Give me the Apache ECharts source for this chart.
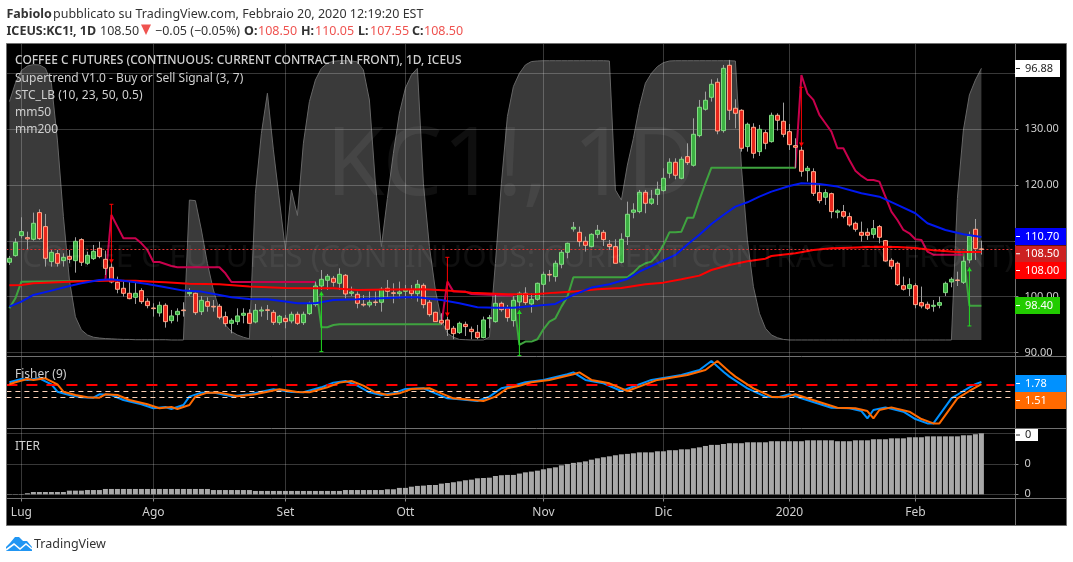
<!DOCTYPE html>
<html><head><meta charset="utf-8">
<style>html,body{margin:0;padding:0;background:#fff}#c{width:1073px;height:562px}</style>
<script src="https://cdn.jsdelivr.net/npm/echarts@6/dist/echarts.min.js"></script>
</head><body><div id="c"></div>
<script>
const barCount = 168;
const tickBars = [2,24,46,66,89,109,130,151];
const tickLabels = ['Lug','Ago','Set','Ott','Nov','Dic','2020','Feb'];
const opens = [106.17,107.36,110.94,110.59,110.29,115.07,112.56,106.29,107.72,106.46,107.24,106.46,110.23,105.99,106.82,108.68,106.70,105.27,102.58,101.51,100.61,99.89,101.09,99.18,97.98,97.09,98.46,95.71,96.79,97.62,100.55,100.61,97.32,99.11,98.28,98.28,96.43,95.23,95.53,96.67,97.03,95.47,97.44,97.65,97.20,95.35,96.13,95.65,96.85,95.35,96.97,98.58,101.92,102.94,103.30,102.40,103.84,100.61,100.43,98.64,98.52,99.05,99.00,101.51,100.70,100.55,100.97,101.21,100.55,102.04,99.00,97.20,95.77,95.83,94.34,93.56,95.05,94.16,93.62,92.67,96.07,95.53,98.82,97.92,95.71,99.05,100.61,98.70,99.53,102.22,104.00,103.60,105.81,107.96,112.14,111.54,109.93,108.97,111.18,111.54,109.39,108.97,106.17,110.77,115.13,115.25,118.71,116.74,118.35,119.01,122.12,124.09,121.22,125.10,123.55,128.87,133.59,135.74,138.43,129.76,141.47,133.77,133.41,126.90,130.36,126.00,129.40,127.79,132.51,131.44,129.58,127.07,126.24,122.59,122.41,118.65,117.82,118.47,115.13,115.25,114.35,113.16,111.54,111.54,111.18,112.56,110.05,106.52,105.99,101.98,101.45,101.98,98.94,98.64,98.28,98.46,100.73,102.64,103.00,102.58,106.58,112.08,108.55];
const highs = [107.30,110.47,114.23,111.66,115.07,115.66,114.83,108.38,108.38,107.78,108.38,110.65,110.47,108.08,109.27,109.87,108.26,105.99,103.60,103.00,102.70,102.70,101.51,99.71,98.82,99.11,98.82,97.62,97.92,99.00,101.51,100.73,100.13,99.89,99.41,98.70,97.32,96.13,97.92,97.92,97.74,98.70,98.22,98.52,97.62,96.73,96.73,97.32,97.32,97.32,99.11,102.70,104.79,104.07,103.72,105.09,104.07,101.81,100.91,100.31,100.91,100.91,101.69,103.00,102.40,102.70,102.10,102.10,103.00,102.40,99.41,97.32,97.03,96.43,94.76,95.53,95.53,94.64,94.94,96.43,96.73,100.31,99.11,98.52,100.13,100.91,101.69,100.61,102.52,104.49,104.79,106.47,108.38,109.69,113.39,112.56,110.77,111.36,112.86,111.96,110.17,110.29,111.36,117.04,116.74,119.13,119.13,119.13,120.62,123.01,124.80,124.80,125.10,127.49,131.97,135.26,136.75,138.96,139.14,141.53,142.43,135.38,133.59,131.20,131.08,130.78,129.88,132.99,132.87,134.78,130.96,128.39,126.90,123.43,123.01,120.32,119.25,118.65,115.66,116.44,115.07,113.45,113.45,112.26,113.75,112.86,110.17,106.88,106.29,103.60,103.30,102.40,101.81,99.11,99.41,100.01,102.70,103.48,104.49,107.18,111.66,113.93,110.05];
const lows = [105.69,107.18,110.47,108.50,110.05,110.17,105.39,105.39,105.39,105.39,105.99,104.31,105.51,105.69,106.58,106.88,103.89,102.40,100.61,100.01,99.53,98.70,98.70,97.92,96.43,96.43,94.46,95.23,95.53,96.43,100.13,96.73,96.73,97.32,97.32,95.95,94.64,93.44,94.94,95.23,95.11,95.23,96.43,95.83,94.94,94.94,94.34,95.23,94.94,94.94,96.73,98.22,101.21,101.21,101.81,101.21,99.71,100.13,97.92,98.22,98.10,98.34,97.32,99.71,98.82,99.71,99.59,99.71,99.11,97.92,96.43,95.53,94.94,92.96,92.37,93.32,92.96,92.37,92.37,92.55,94.34,95.35,97.32,95.53,94.64,97.92,98.52,97.14,99.29,100.31,102.70,102.70,105.09,106.88,111.66,108.97,108.08,108.85,110.47,109.09,108.38,105.99,105.99,109.27,114.05,114.95,114.95,116.44,116.44,118.83,121.22,121.04,121.04,123.61,123.31,128.57,133.35,134.96,129.11,129.40,131.67,130.18,126.00,126.00,124.80,125.22,126.42,127.61,129.76,128.57,126.30,123.01,121.52,120.62,118.05,116.74,116.44,114.05,114.05,114.05,112.56,111.66,109.87,110.17,110.47,109.57,106.29,104.91,101.92,101.09,100.13,97.92,97.92,97.62,97.32,97.92,100.13,101.69,101.92,102.28,105.99,106.58,107.55];
const closes = [106.88,109.75,111.66,110.35,113.16,110.41,106.88,107.96,105.99,107.06,106.70,109.93,106.17,107.42,108.14,107.18,105.09,102.64,101.33,100.61,99.65,100.61,99.11,98.40,97.86,98.46,95.53,96.55,97.38,97.50,100.79,97.14,99.35,98.28,98.16,96.31,95.17,95.77,96.55,97.03,95.23,97.56,97.62,97.55,95.41,96.49,95.53,96.85,95.23,96.85,98.82,101.92,103.12,103.66,102.58,104.01,100.49,100.85,98.82,98.52,99.00,98.95,101.33,100.97,100.60,100.85,101.21,100.55,102.22,98.58,96.79,95.53,95.29,94.16,93.38,95.23,94.64,93.74,92.67,95.83,96.25,98.82,97.68,96.25,99.35,100.61,98.94,99.53,102.40,104.01,103.90,105.99,107.96,109.57,112.44,109.87,109.21,111.18,111.90,110.23,108.97,105.99,110.29,114.77,115.54,118.71,116.74,117.52,119.25,121.22,124.09,121.76,124.63,124.03,129.11,133.95,135.20,138.07,129.70,140.93,133.41,132.87,126.60,130.90,125.70,130.00,127.49,132.51,131.62,129.11,127.25,126.78,122.47,123.01,118.53,117.22,118.65,115.25,115.37,114.41,112.86,112.08,111.00,111.00,112.20,110.65,106.40,105.45,102.16,101.33,102.16,98.58,98.34,97.92,98.46,98.94,102.40,103.12,102.90,106.35,110.83,108.62,108.50];
const mm50 = [[0,98.22],[2,99.12],[4,100.31],[7,101.09],[10,101.92],[12,102.40],[15,103.00],[17,103.12],[21,102.58],[23,102.28],[26,101.69],[29,101.09],[32,100.91],[35,100.31],[37,99.89],[40,99.59],[43,99.53],[46,99.12],[48,98.82],[51,98.82],[54,99.41],[58,99.53],[62,99.71],[66,99.89],[68,99.89],[72,99.41],[75,98.82],[78,98.10],[81,98.04],[84,98.04],[88,98.40],[91,98.70],[94,100.31],[97,101.63],[100,102.22],[103,103.18],[105,104.49],[108,105.99],[111,107.48],[113,109.35],[115,111.10],[117,113.04],[119,114.65],[121,116.14],[123,116.92],[125,117.93],[127,118.83],[130,119.85],[132,120.32],[135,120.20],[138,119.73],[142,118.53],[145,117.93],[148,116.44],[151,114.95],[153,113.16],[156,111.96],[159,111.18],[162,110.70]];
const mm200 = [[0,102.04],[2,102.10],[4,102.40],[10,102.70],[15,102.88],[21,102.88],[24,102.70],[26,102.58],[30,102.34],[35,102.22],[40,101.81],[46,101.57],[51,101.51],[54,101.51],[58,101.21],[63,101.27],[69,101.33],[73,101.09],[77,100.73],[83,100.43],[88,100.49],[91,100.73],[94,100.91],[98,101.33],[102,101.57],[106,102.22],[109,102.52],[112,103.12],[115,103.78],[117,104.79],[120,105.69],[123,106.35],[126,106.82],[127,107.30],[131,107.78],[134,108.38],[137,108.67],[140,108.79],[143,108.91],[145,108.97],[148,108.91],[151,108.73],[154,108.32],[158,108.02],[162,108.00]];
const supertrendUp = [[0,97.92],[1,99.71],[2,102.70],[15,102.88],[16,103.00],[17,null],[51,102.40],[52,94.52],[53,94.52],[54,94.93],[55,95.05],[72,95.05],[73,null],[84,99.96],[85,91.35],[86,91.95],[87,91.95],[88,92.37],[89,94.16],[90,95.53],[91,96.13],[92,98.22],[93,100.01],[94,103.48],[103,103.48],[104,104.31],[105,105.39],[106,105.99],[107,106.29],[108,107.48],[109,109.27],[110,111.54],[111,111.54],[112,111.66],[113,114.17],[114,114.17],[115,117.34],[116,120.32],[117,123.13],[131,123.13],[132,null],[159,107.78],[160,98.40],[162,98.40]];
const supertrendDown = [[16,103.00],[17,114.65],[18,112.56],[19,110.47],[21,110.47],[22,109.57],[23,108.38],[24,106.23],[25,106.23],[26,105.87],[27,105.51],[28,105.27],[35,105.27],[36,104.19],[37,102.64],[51,102.64],[52,null],[72,95.05],[73,102.70],[74,100.91],[76,100.91],[77,100.49],[84,100.19],[85,null],[131,123.13],[132,139.74],[133,136.45],[134,135.26],[135,132.57],[136,131.08],[137,129.58],[138,126.60],[139,126.60],[140,124.51],[141,122.59],[142,121.64],[143,120.92],[144,120.92],[145,120.62],[146,117.93],[147,115.25],[148,113.75],[149,111.96],[150,111.36],[151,110.29],[152,110.17],[153,108.08],[154,107.54],[159,107.54]];
const stc = [85,91.6,96.1,97.7,98.2,98.1,96.9,91.6,71.3,44,21.4,8.3,3.6,1.8,1,.7,.5,.4,.3,.2,.2,.1,.1,.1,.1,.1,.1,0,0,0,49.9,49.7,39.2,27.3,17.8,10.7,5.4,3,1.8,1,.4,52.3,73.7,88,67.8,49.9,32.1,53.5,44.4,70.2,85,92.7,96.9,98.7,99.4,99.6,99.6,99.5,99.2,96.3,85.6,55.9,33.3,50.5,66.6,80.9,89.8,94.5,96.9,55.9,33.3,17.8,7.1,2.4,1,.2,.1,0,0,0,1,27.3,55.9,79.7,90.4,95.1,98.1,99.3,99.5,99.6,99.6,99.6,99.6,99.6,99.6,99.6,99.6,99.6,99.6,99.6,99.5,53.5,49.9,62.4,71.9,83.2,91.6,95.1,97.5,98.9,99.5,99.6,99.6,99.6,99.6,99.6,99.6,99.6,99.6,99.6,99.6,99.5,61.8,35.7,19,9.5,4.2,1.8,.8,.2,0,0,0,0,0,0,0,0,0,0,0,0,0,0,0,0,0,0,0,0,0,0,0,0,0,0,0,0,50.5,74.9,87.4,92.7,96.88];
const stcLast = 96.88;
const lastPrice = 108.5;
const sellSignals = [[17,116.56,105.99],[73,107.06,96.43],[132,137.53,126.90]];
const buySignals = [[52,90.16,100.91],[85,89.44,97.62],[160,94.76,105.27]];
const fisher = [[0,1.73],[2,2.11],[3,2.00],[5,2.19],[7,1.50],[8,.65],[10,.27],[12,0],[14,-.04],[15,.35],[17,.27],[19,-.3],[22,-.8],[24,-1.26],[26,-1.11],[27,-1.34],[29,-.88],[30,.08],[32,.54],[34,.54],[37,.12],[40,.35],[42,.65],[44,.92],[47,.62],[49,.58],[52,1.15],[54,1.69],[56,1.88],[58,1.34],[60,.58],[62,.27],[64,.46],[66,.96],[69,1.04],[71,.46],[73,-.11],[75,-.23],[78,-.42],[80,.08],[82,1.04],[84,1.34],[86,1.73],[89,2.00],[93,2.65],[94,2.87],[96,2.00],[99,1.61],[102,.73],[107,2.00],[112,2.57],[115,3.14],[117,4.18],[119,2.95],[120,2.38],[123,1.04],[126,.08],[128,0],[130,.35],[132,-.11],[137,-1.19],[140,-1.26],[142,-1.57],[143,-2.41],[144,-1.45],[146,-1.15],[149,-1.65],[151,-2.49],[153,-2.99],[154,-2.99],[157,-.11],[159,.73],[161,1.51],[162,1.78]];
const fisherSignal = [[0,1.50],[1,1.73],[3,2.11],[4,2.00],[6,2.19],[8,1.50],[9,.65],[11,.27],[13,0],[15,-.04],[16,.35],[18,.27],[20,-.3],[23,-.8],[25,-1.26],[27,-1.11],[28,-1.34],[30,-.88],[31,.08],[33,.54],[35,.54],[38,.12],[41,.35],[43,.65],[45,.92],[48,.62],[50,.58],[53,1.15],[55,1.69],[57,1.88],[59,1.34],[61,.58],[63,.27],[65,.46],[67,.96],[70,1.04],[72,.46],[74,-.11],[76,-.23],[79,-.42],[81,.08],[83,1.04],[85,1.34],[87,1.73],[90,2.00],[94,2.65],[95,2.87],[97,2.00],[100,1.61],[103,.73],[108,2.00],[113,2.57],[116,3.14],[118,4.18],[120,2.95],[121,2.38],[124,1.04],[127,.08],[129,0],[131,.35],[133,-.11],[138,-1.19],[141,-1.26],[143,-1.57],[144,-2.41],[145,-1.45],[147,-1.15],[150,-1.65],[152,-2.49],[154,-2.99],[155,-2.99],[158,-.11],[160,.73],[162,1.51]];
const fisherLevels = [1.5,.75,0];
const iter = [.002,.002,.002,.007,.015,.015,.015,.015,.015,.015,.024,.024,.024,.028,.028,.028,.035,.035,.035,.035,.035,.035,.035,.035,.035,.035,.035,.035,.035,.035,.035,.035,.035,.035,.028,.028,.028,.028,.028,.028,.028,.022,.022,.022,.022,.022,.022,.022,.022,.022,.022,.022,.022,.022,.022,.022,.028,.028,.028,.028,.028,.028,.028,.033,.033,.042,.042,.050,.055,.057,.061,.061,.070,.074,.079,.085,.092,.096,.105,.107,.109,.120,.125,.127,.127,.136,.144,.149,.155,.164,.171,.177,.190,.199,.206,.210,.216,.227,.236,.243,.249,.256,.262,.265,.269,.275,.275,.275,.282,.282,.289,.289,.295,.295,.302,.308,.317,.324,.324,.330,.335,.335,.335,.341,.341,.341,.341,.348,.348,.348,.348,.348,.348,.354,.354,.354,.354,.354,.348,.348,.348,.354,.354,.354,.361,.361,.361,.367,.367,.367,.374,.374,.374,.380,.380,.380,.380,.380,.380,.387,.387,.394,.402];

const categories = Array.from({length: barCount}, (_, i) => {
  const k = tickBars.indexOf(i);
  return k >= 0 ? tickLabels[k] : '';
});
const isTick = (i) => tickBars.indexOf(i) >= 0;
const candle = opens.map((o, i) => [o, closes[i], lows[i], highs[i]]);
const bodies = opens.map((o, i) => [o, closes[i], Math.min(o, closes[i]), Math.max(o, closes[i])]);

const FONT = '"Noto Sans", sans-serif';
const GRID = 'rgba(255,255,255,0.22)', LINE = '#707070', TXT = '#cfcfcf';
const L = 6.4, W = 1008;

function txt(x, y, text, o) {
  return Object.assign({type:'text', x, y, silent:true, z:20,
    style:Object.assign({text, font:'12px '+FONT, fill:'#333', textVerticalAlign:'middle'}, o||{})});
}
function hline(x1,x2,y,c){return {type:'line',silent:true,z:10,shape:{x1,y1:y,x2,y2:y},style:{stroke:c||LINE,lineWidth:1}};}
function vline(x,y1,y2,c){return {type:'line',silent:true,z:10,shape:{x1:x,y1,x2:x,y2},style:{stroke:c||LINE,lineWidth:1}};}
function tag(y,h,right,bg,fg,label){
  return [
    {type:'rect',silent:true,z:15,shape:{x:1015,y,width:right-1015,height:h},style:{fill:bg}},
    {type:'rect',silent:true,z:16,shape:{x:1016,y:y+h/2-.5,width:4,height:1},style:{fill:fg}},
    {type:'text',silent:true,z:16,x:1025,y:y+h/2,style:{text:label,font:'11px '+FONT,fill:fg,textVerticalAlign:'middle'}}
  ];
}
const red = '#ef5350', hdr = '#333';
const h13 = '12.5px '+FONT, b13 = 'bold 12.5px '+FONT;
const graphic = [
  {type:'rect',silent:true,z:-5,shape:{x:6.5,y:43.5,width:1060,height:482},style:{fill:'#000'}},
  txt(511,168,'KC1!, 1D',{font:'95px '+FONT,fill:'rgba(255,255,255,0.06)',textAlign:'center'}),
  txt(518,258,'COFFEE C FUTURES (CONTINUOUS: CURRENT CONTRACT IN FRONT)',{font:'31.3px '+FONT,fill:'rgba(255,255,255,0.06)',textAlign:'center'}),
  {type:'rect',silent:true,z:10,shape:{x:6.5,y:43.5,width:1060,height:482},style:{fill:'none',stroke:LINE,lineWidth:1}},
  vline(1015.5,43.5,525.5),
  hline(6.5,1066.5,356.5), hline(6.5,1066.5,428.5), hline(6.5,1066.5,498.5),
  txt(15,61,'COFFEE C FUTURES (CONTINUOUS: CURRENT CONTRACT IN FRONT), 1D, ICEUS',{font:'500 12px '+FONT,fill:TXT}),
  txt(15,78.5,'Supertrend V1.0 - Buy or Sell Signal (3, 7)',{fill:TXT}),
  txt(15,95.5,'STC_LB (10, 23, 50, 0.5)',{fill:TXT}),
  txt(15,112.5,'mm50',{fill:TXT}),
  txt(15,129.5,'mm200',{fill:TXT}),
  txt(15,374.5,'Fisher (9)',{fill:TXT}),
  txt(15,446.5,'ITER',{fill:TXT}),
  ...tag(60,17,1060,'#ffffff','#222','96.88'),
  ...tag(228,17,1066,'#0000ff','#fff','110.70'),
  ...tag(245.5,16.5,1066,'#cc2222','#fff','108.50'),
  ...tag(262,17,1066,'#ff0000','#fff','108.00'),
  ...tag(297,17,1060,'#22cc00','#fff','98.40'),
  ...tag(375,17,1066,'#0091ff','#fff','1.78'),
  ...tag(392,17,1066,'#ff6a00','#fff','1.51'),
  ...tag(429,12,1038,'#ffffff','#222','0'),
  txt(6.5,14,'Fabiolo',{font:b13,fill:hdr}),
  txt(53,14,'pubblicato su TradingView.com, Febbraio 20, 2020 12:19:20 EST',{font:h13,fill:hdr}),
  txt(6.5,31,'ICEUS:KC1!, 1D',{font:b13,fill:hdr}),
  txt(100,31,'108.50',{font:h13,fill:hdr}),
  {type:'polygon',silent:true,z:20,shape:{points:[[141,24.5],[151,24.5],[146,35]]},style:{fill:red}},
  txt(155,31,'\u22120.05 (\u22120.05%)',{font:h13,fill:hdr}),
  txt(244,31,'O:',{font:b13,fill:hdr}), txt(258,31,'108.50',{font:h13,fill:red}),
  txt(301,31,'H:',{font:b13,fill:hdr}), txt(315,31,'110.05',{font:h13,fill:red}),
  txt(358,31,'L:',{font:b13,fill:hdr}), txt(370,31,'107.55',{font:h13,fill:red}),
  txt(412,31,'C:',{font:b13,fill:hdr}), txt(424,31,'108.50',{font:h13,fill:red}),
  {type:'polygon',silent:true,z:20,shape:{points:[[6,547],[10,543],[15,537],[19,537],[23,541],[27,541],[32,547],[32,551],[6,551]]},style:{fill:'#2196f3'}},
  {type:'polyline',silent:true,z:21,shape:{points:[[6,550],[14,544],[20,549],[26,544],[32,549]]},style:{stroke:'#fff',lineWidth:1.6,fill:'none'}},
  txt(34,544.5,'TradingView',{font:h13,fill:'#333'})
];

function signalItem(dir){
  return function(params, api){
    const x = api.coord([api.value(0), api.value(1)])[0];
    const y0 = api.coord([api.value(0), api.value(1)])[1];
    const y1 = api.coord([api.value(0), api.value(2)])[1];
    const col = dir > 0 ? '#22dd22' : '#ff0000';
    const head = dir > 0 ? [[x-2.5,y1+4],[x+2.5,y1+4],[x,y1]] : [[x-2.5,y1-4],[x+2.5,y1-4],[x,y1]];
    return {type:'group',children:[
      {type:'line',shape:{x1:x,y1:y0,x2:x,y2:y1},style:{stroke:col,lineWidth:1}},
      {type:'line',shape:{x1:x-2,y1:y0,x2:x+2,y2:y0},style:{stroke:col,lineWidth:1}},
      {type:'polygon',shape:{points:head},style:{fill:col}}
    ]};
  };
}

const hiddenX = (g) => ({type:'category',gridIndex:g,data:categories,show:false,boundaryGap:true});
const option = {
  animation:false,
  backgroundColor:'#fff',
  textStyle:{fontFamily:FONT},
  graphic:{elements:graphic},
  grid:[
    {left:L,width:W,top:43.5,height:455,outerBoundsMode:'none'},
    {left:L,width:W,top:73.5,height:279,outerBoundsMode:'none'},
    {left:L,width:W,top:356.5,height:71.5,outerBoundsMode:'none'},
    {left:L,width:W,top:433.3,height:61,outerBoundsMode:'none'}
  ],
  xAxis:[
    {type:'category',gridIndex:0,data:categories,boundaryGap:true,
      axisLine:{show:false},
      axisTick:{show:true,alignWithLabel:true,length:3,interval:(i)=>isTick(i),lineStyle:{color:'#8a8a8a'}},
      axisLabel:{show:true,interval:(i)=>isTick(i),color:TXT,fontSize:12,margin:8,hideOverlap:false,alignMinLabel:'center',alignMaxLabel:'center'},
      splitLine:{show:true,alignWithLabel:true,interval:(i)=>isTick(i),lineStyle:{color:GRID,width:1}}},
    hiddenX(1),hiddenX(2),hiddenX(3)
  ],
  yAxis:[
    {type:'value',gridIndex:0,show:false,min:0,max:1},
    {type:'value',gridIndex:1,position:'right',min:90,max:140,interval:10,
      axisLine:{show:false},axisTick:{show:true,length:4,lineStyle:{color:'#8a8a8a'}},
      axisLabel:{color:TXT,fontSize:11,margin:10,align:'left',formatter:(v)=>v.toFixed(2)},
      splitLine:{show:true,lineStyle:{color:GRID,width:1}}},
    {type:'value',gridIndex:1,show:false,min:-4.46,max:95.04,splitLine:{show:false}},
    {type:'value',gridIndex:2,show:false,min:-3.52,max:4.69,splitLine:{show:false}},
    {type:'value',gridIndex:3,position:'right',min:0,max:.4,interval:.2,
      axisLine:{show:false},axisTick:{show:true,length:4,lineStyle:{color:'#8a8a8a'}},
      axisLabel:{color:TXT,fontSize:11,margin:10,align:'left',formatter:(v)=>v.toFixed(0)},
      splitLine:{show:true,lineStyle:{color:GRID,width:1}}}
  ],
  series:[
    {name:'STC_LB',type:'line',xAxisIndex:1,yAxisIndex:2,data:stc,clip:false,showSymbol:false,z:-2,
      lineStyle:{color:'#666666',width:1},
      areaStyle:{color:'#3a3a3a',opacity:1},
      markLine:{silent:true,symbol:'none',z:1,label:{show:false},lineStyle:{color:'#6a6a6a',type:[3,3],width:1},data:[{yAxis:stcLast}]}},
    {name:'Supertrend up',type:'line',xAxisIndex:1,yAxisIndex:1,data:supertrendUp,clip:false,showSymbol:false,z:3,connectNulls:false,
      lineStyle:{color:'#3fa33f',width:2}},
    {name:'Supertrend down',type:'line',xAxisIndex:1,yAxisIndex:1,data:supertrendDown,clip:false,showSymbol:false,z:3,connectNulls:false,
      lineStyle:{color:'#c8004c',width:2}},
    {name:'wicks',type:'candlestick',xAxisIndex:1,yAxisIndex:1,data:candle,clip:false,barWidth:1,z:4,
      itemStyle:{color:'#a0a0a0',color0:'#a0a0a0',borderColor:'#a0a0a0',borderColor0:'#a0a0a0',borderColorDoji:'#a0a0a0',borderWidth:1},
      markLine:{silent:true,symbol:'none',label:{show:false},lineStyle:{color:'#e03030',type:[2,2],width:1},data:[{yAxis:lastPrice}]}},
    {name:'KC1!',type:'candlestick',xAxisIndex:1,yAxisIndex:1,data:bodies,clip:false,barWidth:4,z:5,
      itemStyle:{color:'#3cb043',color0:'#e8261c',borderColor:'#80dc80',borderColor0:'#ffa98a',borderColorDoji:'#ffa98a',borderWidth:1}},
    {name:'mm200',type:'line',xAxisIndex:1,yAxisIndex:1,data:mm200,clip:false,showSymbol:false,z:6,lineStyle:{color:'#ff0000',width:2}},
    {name:'mm50',type:'line',xAxisIndex:1,yAxisIndex:1,data:mm50,clip:false,showSymbol:false,z:6,lineStyle:{color:'#0018f0',width:2}},
    {name:'Sell',type:'custom',xAxisIndex:1,yAxisIndex:1,data:sellSignals,renderItem:signalItem(-1),z:7,clip:false,encode:{x:0,y:[1,2]}},
    {name:'Buy',type:'custom',xAxisIndex:1,yAxisIndex:1,data:buySignals,renderItem:signalItem(1),z:7,clip:false,encode:{x:0,y:[1,2]}},
    {name:'Fisher',type:'line',xAxisIndex:2,yAxisIndex:3,data:fisher,clip:false,showSymbol:false,z:4,lineStyle:{color:'#0091ff',width:2},
      markLine:{silent:true,symbol:'none',label:{show:false},data:fisherLevels.map((v)=>({yAxis:v,
        lineStyle: v===1.5 ? {color:'#ff0000',type:[11,9],width:2} : {color:'#ffd2b8',type:[5,4],width:1}}))}},
    {name:'Trigger',type:'line',xAxisIndex:2,yAxisIndex:3,data:fisherSignal,clip:false,showSymbol:false,z:5,lineStyle:{color:'#ff6a00',width:2}},
    {name:'ITER',type:'bar',xAxisIndex:3,yAxisIndex:4,data:iter,barWidth:5,z:3,itemStyle:{color:'#a8a8a8'}}
  ]
};
const chart = echarts.init(document.getElementById('c'));
chart.setOption(option);
</script></body></html>
